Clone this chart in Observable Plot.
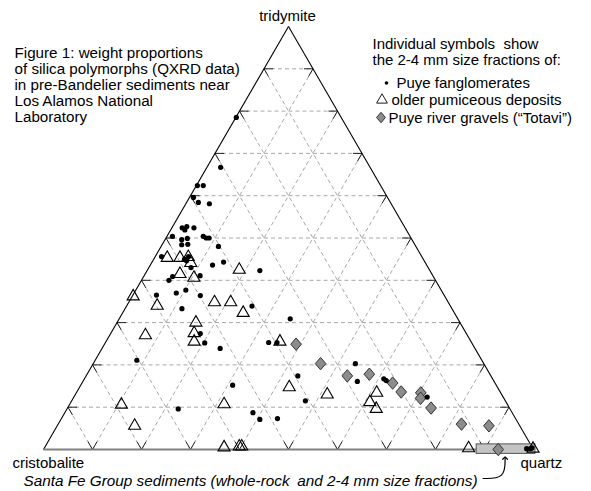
<!DOCTYPE html>
<html><head><meta charset="utf-8">
<script src="https://cdn.jsdelivr.net/npm/d3@7"></script>
<script src="https://cdn.jsdelivr.net/npm/@observablehq/plot@0.6"></script>
<style>body{margin:0;background:#fff}svg{display:block}</style>
</head><body><div id="chart"></div>
<script>
// Vertex labels and grid steps (percent)
const vertexLabels = {left: "cristobalite", right: "quartz", top: "tridymite"};
const gridSteps = [10, 20, 30, 40, 50, 60, 70, 80, 90];

const titleLines = ["Figure 1: weight proportions", "of silica polymorphs (QXRD data)", "in pre-Bandelier sediments near", "Los Alamos National", "Laboratory"];
const legendHead = ["Individual symbols  show", "the 2-4 mm size fractions of:"];
const seriesNames = ["Puye fanglomerates", "older pumiceous deposits", "Puye river gravels (\u201cTotavi\u201d)"];
const santaFeLabel = "Santa Fe Group sediments (whole-rock\u2002and 2-4 mm size fractions)";

// Puye fanglomerates: tridymite %, quartz % (cristobalite = remainder)
const fanglomTrid = [78.5,66.7,62.4,62.4,59.6,58.4,58.1,52.4,52.7,51.9,52.4,50.4,49.6,49.9,48.4,48.5,50.4,50.0,50.0,48.0,45.6,45.0,45.6,44.6,43.0,43.6,44.3,40.9,40.0,41.1,37.0,37.7,36.5,36.4,33.3,33.9,27.4,42.3,30.9,25.2,23.9,25.3,25.3,20.3,17.4,16.1,15.2,11.5,16.7,16.3,21.1,9.6,8.7,7.1,7.3,12.4,0.2,0.2,0.4];
const fanglomQtz  = [0.1,2.8,0.2,1.4,0.8,2.4,4.8,2.1,2.9,2.9,4.5,1.1,3.4,4.4,4.0,5.2,7.4,8.2,8.8,11.7,1.3,6.3,6.8,6.9,8.6,12.7,14.6,5.9,5.6,11.4,8.6,10.2,4.8,13.8,11.6,25.6,18.3,23.0,34.9,20.3,24.1,33.3,35.0,53.5,43.2,56.0,31.0,47.7,61.1,61.8,8.5,22.7,38.4,40.6,44.1,72.1,98.5,99.3,99.5];

// Older pumiceous deposits
const pumiceTrid = [45.3,45.3,45.5,44.1,41.5,40.6,42.5,36.2,34.0,34.8,34.8,32.3,30.0,27.5,25.5,27.0,25.5,14.7,13.0,13.4,11.2,9.6,10.7,10.6,5.6,0.5,0.7,0.7,0.3,0.2];
const pumiceQtz  = [2.6,5.2,6.8,8.0,7.1,10.4,18.7,0.2,6.2,17.5,20.8,24.6,16.1,17.0,18.0,7.3,35.5,42.8,51.4,61.3,61.0,63.1,31.5,10.6,15.8,36.6,39.6,40.1,86.6,99.8];

// Puye river gravels ("Totavi")
const totaviTrid = [24.9,20.3,17.4,17.8,15.7,13.6,13.4,12.1,9.8,6.0,5.6,0.0];
const totaviQtz  = [39.1,46.4,53.3,57.6,63.4,66.2,70.3,70.9,74.2,82.3,88.1,92.8];

// Santa Fe Group sediments: quartz range along base
const santaFeQtz = [88.4, 100.4];

const S3 = Math.sqrt(3) / 2;
const toXY = (t, q) => [q / 100 + t / 200, t / 100 * S3];
const pts = (T, Q) => T.map((t, i) => { const [x, y] = toXY(t, Q[i]); return {x, y}; });

const segs = [];
for (const k of gridSteps) {
  segs.push([toXY(k, 0), toXY(k, 100 - k)]);
  segs.push([toXY(0, 100 - k), toXY(100 - k, 0)]);
  segs.push([toXY(0, k), toXY(100 - k, k)]);
}
const TL = 0.0184;
const ticks = [];
for (const [a, b] of segs) {
  const dx = b[0] - a[0], dy = b[1] - a[1], len = Math.hypot(dx, dy);
  const ux = dx / len * TL, uy = dy / len * TL;
  ticks.push([a, [a[0] + ux, a[1] + uy]]);
  ticks.push([b, [b[0] - ux, b[1] - uy]]);
}
const V = {c: toXY(0, 0), q: toXY(0, 100), t: toXY(100, 0)};
const sideEdges = [[V.c, V.t], [V.t, V.q]];
const baseEdge = [[V.c, V.q]];

const diamondSym = {draw(ctx, size) {
  const r = Math.sqrt(size / Math.PI), w = r * 0.86;
  ctx.moveTo(0, -r); ctx.lineTo(w, 0); ctx.lineTo(0, r); ctx.lineTo(-w, 0); ctx.closePath();
}};

const ML = 43, MT = 26;
const FONT = "'Liberation Sans', Arial, sans-serif";
const label = (text, px, py, o = {}) => Plot.text([text], {text: d => d, frameAnchor: "top-left", dx: px - ML, dy: py - MT, lineAnchor: "bottom", textAnchor: "start", fontSize: 15, fontFamily: FONT, fill: "#000", ...o});
const legendSym = (px, py, o) => Plot.dot([0], {frameAnchor: "top-left", dx: px - ML, dy: py - MT, ...o});

const link = (data, o) => Plot.link(data, {x1: d => d[0][0], y1: d => d[0][1], x2: d => d[1][0], y2: d => d[1][1], ...o});

// caption pointer path (from caption end, bending up to the Santa Fe box)
const pointer = [{x: 0.897, y: -0.0594}, {x: 0.942, y: -0.0594}, {x: 0.942, y: -0.0175}];

const chart = Plot.plot({
  width: 591, height: 491,
  marginLeft: ML, marginRight: 58, marginTop: MT, marginBottom: 42,
  x: {domain: [0, 1], axis: null},
  y: {domain: [0, S3], axis: null},
  style: {fontFamily: FONT, background: "#fff"},
  marks: [
    link(segs, {stroke: "#a8a8a8", strokeDasharray: "4,3", strokeWidth: 1}),
    link(ticks, {stroke: "#222", strokeWidth: 1}),
    link(sideEdges, {stroke: "#000", strokeWidth: 1.1}),
    link(baseEdge, {stroke: "#808080", strokeWidth: 2}),
    Plot.rect([santaFeQtz], {x1: d => d[0] / 100, x2: d => d[1] / 100, y1: () => -0.009, y2: () => 0.0105, fill: "#c4c4c4", stroke: "#555", strokeWidth: 1}),
    Plot.dot(pts(pumiceTrid, pumiceQtz), {x: "x", y: "y", symbol: "triangle", r: 4.5, fill: "none", stroke: "#000", strokeWidth: 1.1}),
    Plot.dot(pts(totaviTrid, totaviQtz), {x: "x", y: "y", symbol: diamondSym, r: 6.2, fill: "#8c8c8c", stroke: "#333", strokeWidth: 1}),
    Plot.dot(pts(fanglomTrid, fanglomQtz), {x: "x", y: "y", r: 2.6, fill: "#000", stroke: "none"}),
    Plot.line(pointer, {x: "x", y: "y", curve: "basis", stroke: "#000", strokeWidth: 1.2, markerEnd: "arrow"}),
    // corner labels
    label(vertexLabels.top, 287, 20.5, {textAnchor: "middle"}),
    label(vertexLabels.left, 12, 467),
    label(vertexLabels.right, 520, 467),
    // title
    ...titleLines.map((s, i) => label(s, 14, 57 + i * 16.2, {fontSize: 15.2})),
    // legend
    ...legendHead.map((s, i) => label(s, 372, 48.5 + i * 16)),
    legendSym(386, 82.5, {r: 1.8, fill: "#000"}),
    label(seriesNames[0], 396, 87),
    legendSym(381.5, 99.5, {symbol: "triangle", r: 4, fill: "none", stroke: "#000", strokeWidth: 0.9}),
    label(seriesNames[1], 391, 104.5),
    legendSym(380.5, 117, {symbol: diamondSym, r: 5.2, fill: "#8c8c8c", stroke: "#333", strokeWidth: 1}),
    label(seriesNames[2], 388, 122),
    // Santa Fe caption
    label(santaFeLabel, 23, 485, {fontStyle: "italic", fontSize: 15.3})
  ]
});
document.getElementById("chart").append(chart);
</script>
</body></html>
